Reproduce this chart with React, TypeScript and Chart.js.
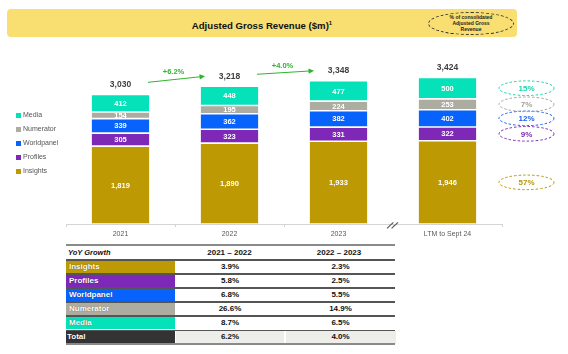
import React, { useEffect, useRef } from "react";
import { Chart, registerables } from "chart.js";

Chart.register(...registerables);

const FONT = '"Liberation Sans", Arial, sans-serif';

// ---- data ----
const categories = ["2021", "2022", "2023", "LTM to Sept 24"];
const seriesNames = ["Insights", "Profiles", "Worldpanel", "Numerator", "Media"];
const insights = [1819, 1890, 1933, 1946];
const profiles = [305, 323, 331, 322];
const worldpanel = [339, 362, 382, 402];
const numerator = [154, 195, 224, 253];
const media = [412, 448, 477, 500];
const totals = [3030, 3218, 3348, 3424];
const growthLabels = ["+6.2%", "+4.0%"];
const shareLabels = ["57%", "9%", "12%", "7%", "15%"]; // Insights..Media
const tableHeaders = ["YoY Growth", "2021 – 2022", "2022 – 2023"];
const tableRows = ["Insights", "Profiles", "Worldpanel", "Numerator", "Media", "Total"];
const growth2122 = ["3.9%", "5.8%", "6.8%", "26.6%", "8.7%", "6.2%"];
const growth2223 = ["2.3%", "2.5%", "5.5%", "14.9%", "6.5%", "4.0%"];

const seriesColors = ["#BD9904", "#7E28B8", "#0863FC", "#ADACA0", "#05E2B9"];
const shareColors = ["#B8960A", "#7D2AB5", "#1A5FF5", "#A3A39A", "#1CD3AD"];
const GREEN = "#2DB52D";

const fmt = (v: number) => v.toLocaleString("en-US");

const overlayPlugin = {
  id: "overlay",
  afterDatasetsDraw(chart: any) {
    const ctx = chart.ctx as CanvasRenderingContext2D;
    const ys = chart.scales.y;
    const area = chart.chartArea;
    const metas = chart.data.datasets.map((_: any, i: number) => chart.getDatasetMeta(i));
    ctx.save();
    ctx.textAlign = "center";
    ctx.textBaseline = "middle";

    // values inside segments
    ctx.font = `bold 7.5px ${FONT}`;
    ctx.fillStyle = "#ffffff";
    metas.forEach((meta: any, di: number) => {
      meta.data.forEach((bar: any, i: number) => {
        const v = chart.data.datasets[di].data[i];
        const p = bar.getProps(["x", "y", "base"], true);
        ctx.fillText(fmt(v), p.x, (p.y + p.base) / 2 + 0.5);
      });
    });

    // totals
    const topMeta = metas[metas.length - 1];
    const bars = topMeta.data.map((b: any) => b.getProps(["x", "y", "width"], true));
    ctx.font = `bold 8.5px ${FONT}`;
    ctx.fillStyle = "#404040";
    bars.forEach((b: any, i: number) => {
      ctx.fillText(fmt(totals[i]), b.x, ys.getPixelForValue(totals[i]) - 10);
    });

    // growth arrows
    growthLabels.forEach((lab, i) => {
      const b0 = bars[i];
      const b1 = bars[i + 1];
      const x0 = b0.x + b0.width / 2 - 2;
      const y0 = ys.getPixelForValue(totals[i]) - 12;
      const x1 = b1.x - b1.width / 2 + 5;
      const y1 = ys.getPixelForValue(totals[i + 1]) - 10;
      ctx.strokeStyle = GREEN;
      ctx.fillStyle = GREEN;
      ctx.lineWidth = 1;
      ctx.beginPath();
      ctx.moveTo(x0, y0);
      ctx.lineTo(x1 - 3, y1 + ((y0 - y1) * 3) / (x1 - x0));
      ctx.stroke();
      const ang = Math.atan2(y1 - y0, x1 - x0);
      const L = 5.5;
      const W = 2.6;
      ctx.beginPath();
      ctx.moveTo(x1, y1);
      ctx.lineTo(x1 - L * Math.cos(ang) + W * Math.sin(ang), y1 - L * Math.sin(ang) - W * Math.cos(ang));
      ctx.lineTo(x1 - L * Math.cos(ang) - W * Math.sin(ang), y1 - L * Math.sin(ang) + W * Math.cos(ang));
      ctx.closePath();
      ctx.fill();
      ctx.font = `bold 7.5px ${FONT}`;
      ctx.fillText(lab, (x0 + x1) / 2 - 3, (y0 + y1) / 2 - 7);
    });

    // share ellipses next to last bar
    const last = categories.length - 1;
    metas.forEach((meta: any, di: number) => {
      const p = meta.data[last].getProps(["y", "base"], true);
      const cy = (p.y + p.base) / 2;
      const cx = area.right + 24.5;
      ctx.setLineDash([2.5, 2]);
      ctx.strokeStyle = shareColors[di];
      ctx.lineWidth = 1;
      ctx.beginPath();
      ctx.ellipse(cx, cy, 27.5, 7.3, 0, 0, Math.PI * 2);
      ctx.stroke();
      ctx.setLineDash([]);
      ctx.fillStyle = shareColors[di];
      ctx.font = `bold 8px ${FONT}`;
      ctx.fillText(shareLabels[di], cx, cy + 0.5);
    });

    // axis break mark between last two categories
    const xs = chart.scales.x;
    const bx = (xs.getPixelForValue(last - 1) + xs.getPixelForValue(last)) / 2 - 0.5;
    const by = area.bottom + 1.3;
    ctx.strokeStyle = "#555555";
    ctx.lineWidth = 1.1;
    [-2.3, 2.3].forEach((dx) => {
      ctx.beginPath();
      ctx.moveTo(bx + dx - 3.2, by + 3);
      ctx.lineTo(bx + dx + 3.2, by - 3);
      ctx.stroke();
    });
    ctx.restore();
  },
};

function BarChart() {
  const ref = useRef<HTMLCanvasElement | null>(null);
  useEffect(() => {
    if (!ref.current) return;
    const data = [insights, profiles, worldpanel, numerator, media];
    const chart = new Chart(ref.current, {
      type: "bar",
      data: {
        labels: categories,
        datasets: seriesNames.map((name, i) => ({
          label: name,
          data: data[i],
          backgroundColor: seriesColors[i],
          borderColor: "rgba(255,255,255,0.65)",
          borderWidth: 0.8,
          borderSkipped: false,
          categoryPercentage: 1,
          barPercentage: 0.54,
        })),
      },
      options: {
        responsive: false,
        animation: false,
        devicePixelRatio: 1,
        layout: { padding: { left: 66, right: 66, top: 12.8, bottom: 0 } },
        plugins: { legend: { display: false }, tooltip: { enabled: false } },
        scales: {
          x: {
            stacked: true,
            grid: { offset: true, drawOnChartArea: false, drawTicks: true, tickLength: 3, color: "#d4d4d4" },
            border: { color: "#d4d4d4" },
            ticks: { font: { family: FONT, size: 7 }, color: "#595959", padding: 3 },
            afterFit: (s: any) => {
              s.height = 16;
            },
          },
          y: { stacked: true, display: false, min: 0, max: 4000 },
        },
      },
      plugins: [overlayPlugin],
    } as any);
    return () => chart.destroy();
  }, []);
  return (
    <canvas
      ref={ref}
      width={568}
      height={200}
      style={{ position: "absolute", left: 0, top: 40, width: 568, height: 200 }}
    />
  );
}

export default function App() {
  const legendOrder = [4, 3, 2, 1, 0];
  const rowTop = (i: number) => 259 + i * 14.1;
  return (
    <div
      style={{
        position: "absolute",
        left: 0,
        top: 0,
        width: 568,
        height: 354,
        background: "#ffffff",
        fontFamily: FONT,
        overflow: "hidden",
      }}
    >
      {/* title banner */}
      <div
        style={{
          position: "absolute",
          left: 7,
          top: 9,
          width: 510,
          height: 28,
          background: "#F9DF72",
          borderRadius: 4,
        }}
      />
      <div
        style={{
          position: "absolute",
          left: 7,
          top: 9,
          width: 510,
          height: 28,
          lineHeight: "28px",
          textAlign: "center",
          fontWeight: "bold",
          fontSize: 9.6,
          color: "#111",
        }}
      >
        Adjusted Gross Revenue ($m)<sup style={{ fontSize: 6, verticalAlign: "4px" }}>1</sup>
      </div>
      <div
        style={{
          position: "absolute",
          left: 428,
          top: 12,
          width: 86,
          height: 23,
          border: "1px dashed #333",
          borderRadius: "50%",
          boxSizing: "border-box",
        }}
      />
      <div
        style={{
          position: "absolute",
          left: 428,
          top: 13.5,
          width: 86,
          textAlign: "center",
          fontWeight: "bold",
          fontSize: 5,
          lineHeight: "6.3px",
          color: "#222",
        }}
      >
        % of consolidated
        <br />
        Adjusted Gross
        <br />
        Revenue
      </div>

      <BarChart />

      {/* legend */}
      {legendOrder.map((si, k) => (
        <div
          key={si}
          style={{ position: "absolute", left: 16, top: 115 + k * 14 - 5, height: 10, display: "flex", alignItems: "center" }}
        >
          <div style={{ width: 5, height: 5, background: seriesColors[si], marginRight: 2 }} />
          <span style={{ fontSize: 7, color: "#555", lineHeight: "10px" }}>{seriesNames[si]}</span>
        </div>
      ))}

      {/* table */}
      <div style={{ position: "absolute", left: 66, top: 244, width: 329, height: 2, background: "#8a8a8a" }} />
      <div
        style={{
          position: "absolute",
          left: 68,
          top: 246,
          width: 106,
          height: 13,
          lineHeight: "13px",
          fontSize: 7.5,
          fontWeight: "bold",
          fontStyle: "italic",
          color: "#111",
        }}
      >
        {tableHeaders[0]}
      </div>
      {[tableHeaders[1], tableHeaders[2]].map((h, j) => (
        <div
          key={h}
          style={{
            position: "absolute",
            left: 175 + j * 109.5,
            top: 246,
            width: 109,
            height: 13,
            lineHeight: "13px",
            textAlign: "center",
            fontSize: 8,
            fontWeight: "bold",
            color: "#111",
          }}
        >
          {h}
        </div>
      ))}
      {tableRows.map((name, i) => {
        const top = rowTop(i);
        const isTotal = i === tableRows.length - 1;
        const vals = [growth2122[i], growth2223[i]];
        return (
          <React.Fragment key={name}>
            <div style={{ position: "absolute", left: 66, top, width: 329, height: 1.5, background: "#555" }} />
            <div
              style={{
                position: "absolute",
                left: 66,
                top: top + 1.5,
                width: 109,
                height: 12.5,
                background: isTotal ? "#333333" : seriesColors[i],
                color: "#fff",
                fontWeight: "bold",
                fontSize: 8,
                lineHeight: "12.5px",
                paddingLeft: isTotal ? 1 : 3,
                boxSizing: "border-box",
                textShadow: "0 0 1px rgba(0,0,0,0.55)",
              }}
            >
              {name}
            </div>
            {vals.map((v, j) => (
              <div
                key={j}
                style={{
                  position: "absolute",
                  left: 176 + j * 109.5,
                  top: top + 1.5,
                  width: j === 0 ? 108 : 110,
                  height: 12.5,
                  background: isTotal ? "#EDEDEA" : "#ffffff",
                  textAlign: "center",
                  fontWeight: "bold",
                  fontSize: 8,
                  lineHeight: "12.5px",
                  color: "#111",
                }}
              >
                {v}
              </div>
            ))}
          </React.Fragment>
        );
      })}
      <div style={{ position: "absolute", left: 66, top: rowTop(6) - 0.5, width: 329, height: 2, background: "#8a8a8a" }} />
    </div>
  );
}
